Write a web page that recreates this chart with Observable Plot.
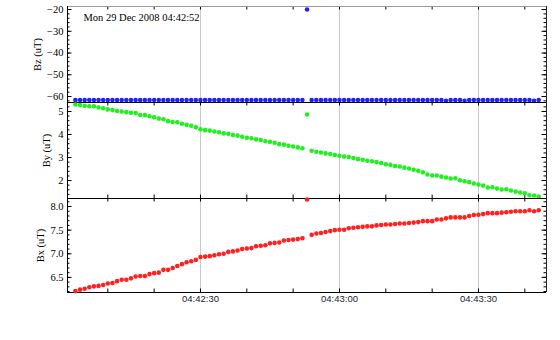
<!DOCTYPE html>
<html>
<head>
<meta charset="utf-8">
<script src="https://cdn.jsdelivr.net/npm/d3@7"></script>
<script src="https://cdn.jsdelivr.net/npm/@observablehq/plot@0.6"></script>
<style>
  html, body { margin: 0; padding: 0; background: #fff; }
  #chart { position: relative; width: 560px; height: 340px; background: #fff; }
  #chart svg { position: absolute; left: 0; }
</style>
</head>
<body>
<div id="chart"></div>
<script>
// ---- data (seconds after 04:42:00 UTC, 29 Dec 2008) ----
const title = "Mon 29 Dec 2008 04:42:52";
const times = [3,4,5,6,7,8,9,10,11,12,13,14,15,16,17,18,19,20,21,22,23,24,25,26,27,28,29,30,31,32,
  33,34,35,36,37,38,39,40,41,42,43,44,45,46,47,48,49,50,51,52,53,54,55,56,57,58,59,60,61,62,
  63,64,65,66,67,68,69,70,71,72,73,74,75,76,77,78,79,80,81,82,83,84,85,86,87,88,89,90,91,92,
  93,94,95,96,97,98,99,100,101,102,103];
const bz = [-61.6,-61.6,-61.65,-61.6,-61.65,-61.6,-61.6,-61.65,-61.6,-61.6,
  -61.65,-61.6,-61.6,-61.6,-61.65,-61.6,-61.6,-61.6,-61.65,-61.6,
  -61.6,-61.6,-61.65,-61.6,-61.6,-61.6,-61.6,-61.65,-61.6,-61.6,
  -61.6,-61.65,-61.6,-61.6,-61.6,-61.6,-61.65,-61.6,-61.6,-61.6,
  -61.6,-61.6,-61.65,-61.6,-61.6,-61.6,-61.6,-61.6,-61.65,-61.6,
  -20.0,
  -61.6,-61.6,-61.65,-61.6,-61.6,-61.6,-61.6,-61.65,-61.6,-61.6,
  -61.6,-61.6,-61.65,-61.6,-61.6,-61.6,-61.6,-61.6,-61.65,-61.6,
  -61.6,-61.6,-61.6,-61.65,-61.6,-61.6,-61.6,-61.6,-61.6,-62.0,
  -61.6,-61.6,-61.6,-62.0,-61.6,-61.6,-61.6,-61.6,-61.6,-61.65,
  -61.6,-61.6,-61.6,-61.6,-61.6,-61.6,-61.6,-61.65,-62.0,-61.6];
const by = [5.30,5.28,5.25,5.23,5.23,5.17,5.14,5.09,5.06,5.02,
  5.00,4.97,4.94,4.93,4.85,4.84,4.79,4.75,4.69,4.66,
  4.58,4.54,4.53,4.47,4.42,4.38,4.31,4.23,4.19,4.17,
  4.13,4.10,4.05,4.03,3.98,3.95,3.90,3.86,3.84,3.79,
  3.76,3.71,3.68,3.64,3.58,3.56,3.51,3.48,3.44,3.40,
  4.87,
  3.29,3.25,3.22,3.18,3.15,3.11,3.08,3.04,3.02,2.98,
  2.93,2.90,2.86,2.84,2.80,2.76,2.71,2.68,2.63,2.61,
  2.56,2.52,2.47,2.42,
  2.36,2.26,2.22,2.22,2.17,2.13,2.09,2.10,2.01,1.97,
  1.93,1.87,1.83,1.78,1.70,1.71,1.65,1.61,1.62,1.57,
  1.52,1.48,1.45,1.36,1.35,1.30];
const bx = [6.21,6.24,6.26,6.29,6.31,6.32,6.34,6.37,6.38,6.42,
  6.45,6.45,6.48,6.52,6.53,6.53,6.57,6.59,6.60,6.66,
  6.66,6.70,6.74,6.78,6.82,6.84,6.87,6.93,6.94,6.95,
  6.97,6.99,7.00,7.04,7.05,7.07,7.10,7.11,7.12,7.16,
  7.17,7.18,7.22,7.23,7.24,7.28,7.29,7.30,7.31,7.33,
  8.15,
  7.40,7.43,7.44,7.46,7.48,7.50,7.51,7.51,7.54,7.55,
  7.56,7.57,7.58,7.58,7.60,7.61,7.62,7.62,7.63,7.64,
  7.64,7.65,7.66,7.67,
  7.69,7.69,7.69,7.725,7.725,7.75,7.77,7.77,7.77,7.77,
  7.80,7.82,7.825,7.84,7.86,7.86,7.86,7.87,7.88,7.89,
  7.90,7.90,7.90,7.92,7.90,7.92];

// x axis
const gridSeconds = [30, 60, 90];
const xTickLabels = ["04:42:30", "04:43:00", "04:43:30"];
const xTickSeconds = [10, 20, 30, 40, 50, 60, 70, 80, 90, 100];

// y ticks
const bzMajors = [-60, -50, -40, -30, -20];
const bzLabels = ["\u221260", "\u221250", "\u221240", "\u221230", "\u221220"];
const byMajors = [2, 3, 4, 5];
const byLabels = ["2", "3", "4", "5"];
const bxMajors = [6.5, 7.0, 7.5, 8.0];
const bxLabels = ["6.5", "7.0", "7.5", "8.0"];

// ---- layout ----
const W = 560, ML = 67, MR = 14;
const xDomain = [1.3, 104.68];
const SERIF = "'Liberation Serif', 'Times New Roman', serif";
const SANS = "'Liberation Sans', Arial, sans-serif";

function panel(o) {
  const fw = W - ML - MR;
  const fh = o.height - o.marginTop - o.marginBottom;
  const data = times.map((t, i) => ({t, v: o.values[i]}));
  const marks = [
    Plot.ruleX(gridSeconds, {x: d => d, stroke: "#c8c8c8", strokeWidth: 1}),
    Plot.tickY(o.minors, {y: d => d, insetRight: fw - 2.5, stroke: "#000"}),
    Plot.tickY(o.minors, {y: d => d, insetLeft: fw - 2.5, stroke: "#000"}),
    Plot.tickY(o.majors, {y: d => d, insetRight: fw - 4.5, stroke: "#000"}),
    Plot.tickY(o.majors, {y: d => d, insetLeft: fw - 4.5, stroke: "#000"}),
    Plot.tickX(xTickSeconds, {x: d => d, insetBottom: fh - 3.5, stroke: "#000"}),
    Plot.tickX(xTickSeconds, {x: d => d, insetTop: fh - 3.5, stroke: "#000"}),
    Plot.ruleY([o.domain[1]], {y: d => d, stroke: o.topStroke}),
    Plot.ruleY([o.domain[0]], {y: d => d, stroke: "#000"}),
    Plot.ruleX([xDomain[0]], {x: d => d, stroke: "#000"}),
    Plot.ruleX([xDomain[1]], {x: d => d, stroke: "#222"}),
    Plot.dot(data, {x: "t", y: "v", r: 2.3, fill: o.color}),
    Plot.text(o.majors, {y: d => d, text: (d, i) => o.majorLabels[i], frameAnchor: "left",
      textAnchor: "end", dx: -4, fontFamily: SERIF, fontSize: 10.5, fill: "#000"}),
    Plot.text([o.label], {text: d => d, frameAnchor: "left", rotate: -90, dx: o.labelDx,
      textAnchor: "middle", fontFamily: SERIF, fontSize: 10.5, fill: "#000"})
  ];
  if (o.title) {
    marks.push(Plot.text([o.title], {text: d => d, frameAnchor: "top-left", dx: 16, dy: 7,
      lineAnchor: "top", textAnchor: "start", fontFamily: SERIF, fontSize: 10.5, fill: "#000"}));
  }
  if (o.xLabels) {
    marks.push(Plot.text(gridSeconds, {x: d => d, text: (d, i) => xTickLabels[i], frameAnchor: "bottom",
      dy: 9.5, textAnchor: "middle", fontFamily: SANS, fontSize: 9.5, fill: "#1a1a3a"}));
  }
  const svg = Plot.plot({
    width: W, height: o.height,
    marginLeft: ML, marginRight: MR, marginTop: o.marginTop, marginBottom: o.marginBottom,
    x: {type: "linear", domain: xDomain, axis: null},
    y: {type: "linear", domain: o.domain, axis: null},
    style: {overflow: "visible", background: "transparent"},
    marks
  });
  svg.style.top = o.top + "px";
  return svg;
}

const chart = document.getElementById("chart");
chart.append(panel({
  values: bz, color: "#2020ff", domain: [-62.76, -18.6],
  majors: bzMajors, majorLabels: bzLabels, minors: d3.range(-62, -19, 2),
  label: "Bz (uT)", labelDx: -30, top: 0, height: 102, marginTop: 6, marginBottom: 0,
  topStroke: "#999", title
}));
chart.append(panel({
  values: by, color: "#22ee22", domain: [1.22, 5.39],
  majors: byMajors, majorLabels: byLabels, minors: d3.range(1.4, 5.3, 0.2),
  label: "By (uT)", labelDx: -21, top: 102, height: 96, marginTop: 0, marginBottom: 0,
  topStroke: "#000"
}));
chart.append(panel({
  values: bx, color: "#ff2020", domain: [6.18, 8.17],
  majors: bxMajors, majorLabels: bxLabels, minors: d3.range(6.2, 8.15, 0.1),
  label: "Bx (uT)", labelDx: -27, top: 198, height: 142, marginTop: 0, marginBottom: 48,
  topStroke: "#000", xLabels: true
}));
</script>
</body>
</html>
